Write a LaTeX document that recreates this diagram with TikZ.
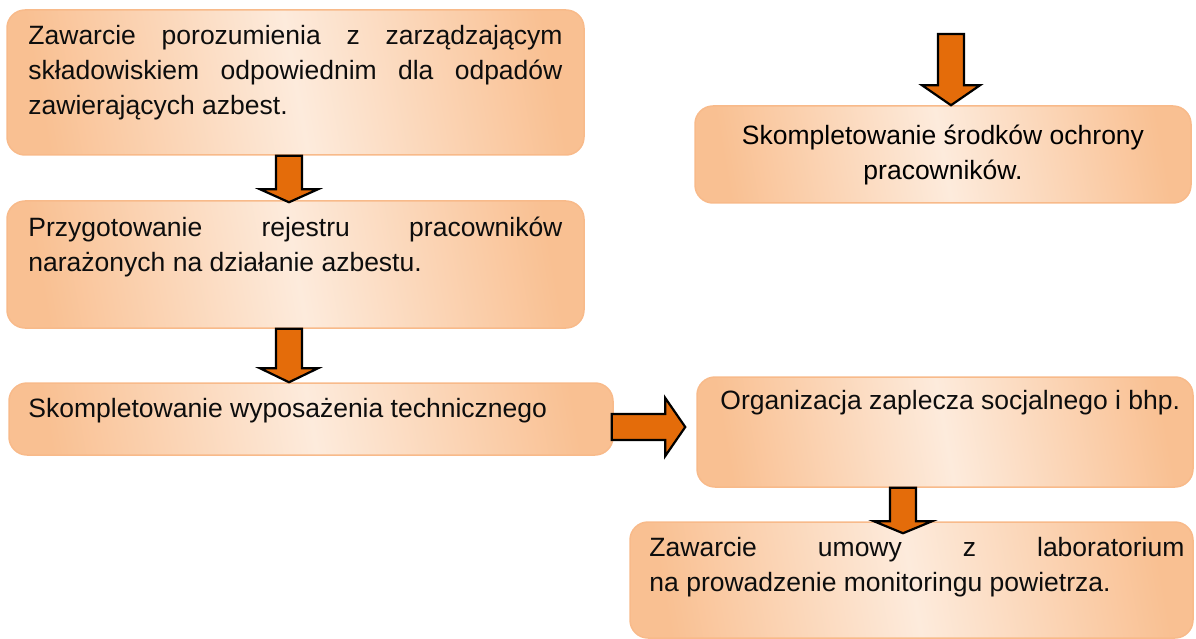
\documentclass[tikz,border=0pt]{standalone}
\usepackage{fontspec}
\setmainfont{Liberation Sans}
\usetikzlibrary{calc}

\definecolor{boxedge}{RGB}{248,186,138}
\definecolor{boxdark}{RGB}{249,192,146}
\definecolor{boxlight}{RGB}{253,235,220}
\definecolor{arrowfill}{RGB}{228,108,10}

% block arrow from #2 to the tip #3, head length #1
\newcommand{\blockarrow}[3][15]{%
  \coordinate (ba-s) at (#2);
  \coordinate (ba-t) at (#3);
  \coordinate (ba-h) at ($(ba-t)!#1pt!(ba-s)$);
  \draw[flowarrow] ($(ba-s)!13pt!90:(ba-t)$) -- ($(ba-h)!13pt!90:(ba-t)$)
    -- ($(ba-h)!29pt!90:(ba-t)$) -- (ba-t) -- ($(ba-h)!29pt!-90:(ba-t)$)
    -- ($(ba-h)!13pt!-90:(ba-t)$) -- ($(ba-s)!13pt!-90:(ba-t)$) -- cycle;}

\begin{document}
\begin{tikzpicture}[x=1pt,y=-1pt]
	\tikzset{
		panel/.style={rectangle, rounded corners=18pt, draw=boxedge, line width=1.5pt,
			left color=boxdark, right color=boxdark, middle color=boxlight, shading angle=100},
		paneltext/.style={anchor=base west, inner sep=0pt, text=black!95,
			font=\fontsize{26.5}{35}\selectfont},
		flowarrow/.style={draw=black, line width=2.2pt, line join=miter, fill=arrowfill}
	}
	\useasboundingbox (0,0) rectangle (1196,639);

	% left column
	\node[panel, minimum width=577pt, minimum height=145pt] (z1) at (295.5,82.5) {};
	\node[paneltext, text width=534pt, align=justify] (t1) at ($(z1.north west)+(22,35)$)
		{Zawarcie porozumienia z zarządzającym\linebreak składowiskiem odpowiednim dla odpadów\linebreak zawierających azbest.};

	\node[panel, minimum width=577pt, minimum height=127pt] (z2) at (295.5,264.5) {};
	\node[paneltext, text width=534pt, align=justify] (t2) at ($(z2.north west)+(22,36)$)
		{Przygotowanie rejestru pracowników\linebreak narażonych na działanie azbestu.};

	\node[panel, minimum width=604pt, minimum height=72pt] (z3) at (311,419) {};
	\node[paneltext] (t3) at ($(z3.north west)+(20,35)$) {Skompletowanie wyposażenia technicznego};

	% right column
	\node[panel, minimum width=496pt, minimum height=97pt, align=center,
		font=\fontsize{26.5}{35}\selectfont] (z4) at (943,154.5)
		{Skompletowanie środków ochrony\\pracowników.};

	\node[panel, minimum width=496pt, minimum height=110pt] (z5) at (945,432) {};
	\node[paneltext] (t5) at ($(z5.north west)+(24,33)$) {Organizacja zaplecza socjalnego i bhp.};

	\node[panel, minimum width=563pt, minimum height=116pt] (z6) at (911.5,580) {};
	\node[paneltext, text width=535pt, align=justify] (t6) at ($(z6.north west)+(20,35)$)
		{Zawarcie umowy z laboratorium\linebreak na prowadzenie monitoringu powietrza.};

	% arrows
	\coordinate (leftaxis) at (289,0);
	\coordinate (top4) at (951,34);
	\coordinate (axis5) at (903,0);
	\coordinate (harrow) at (0,427);

	\blockarrow[13]{z1.south -| leftaxis}{$(z2.north -| leftaxis)+(0,2)$}
	\blockarrow[14]{z2.south -| leftaxis}{z3.north -| leftaxis}
	\blockarrow[20]{top4}{z4.north -| top4}
	\blockarrow[20]{$(z3.east |- harrow)+(-2,0)$}{$(z5.west |- harrow)+(-11,0)$}
	\blockarrow[12]{z5.south -| axis5}{$(z6.north -| axis5)+(0,12)$}
\end{tikzpicture}
\end{document}
